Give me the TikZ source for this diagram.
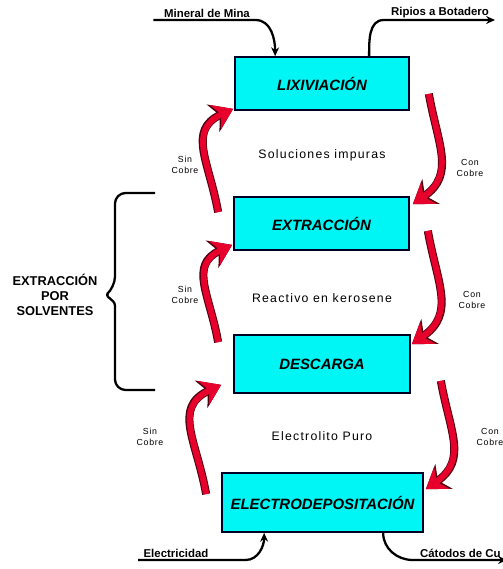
\documentclass[tikz,border=0pt]{standalone}
\usepackage{fontspec}
\setmainfont{Liberation Sans}
\usepackage{xcolor}
\usetikzlibrary{arrows.meta,positioning,calc}

\definecolor{boxcyan}{RGB}{0,245,245}
\definecolor{cured}{RGB}{232,0,45}
\definecolor{cudark}{RGB}{80,0,15}

\tikzset{
  stage/.style={shape=rectangle, draw=black!85!blue, line width=1pt, fill=boxcyan,
    font=\fontsize{8.5}{10}\selectfont\bfseries\itshape},
  midtext/.style={font=\fontsize{7}{8}\selectfont\addfontfeature{LetterSpace=10}},
  cutext/.style={font=\fontsize{5}{6}\selectfont\addfontfeature{LetterSpace=8}, align=center},
  feedtext/.style={font=\fontsize{6.5}{7}\selectfont\bfseries, inner sep=1pt},
  feedline/.style={line width=1.3pt, -{Stealth[length=5pt,width=4.5pt]}},
  cuarrow/.style={line width=3.4pt, cured, -{Stealth[length=11pt,width=15pt]},
    preaction={draw=cudark, line width=4.6pt, -{Stealth[length=12.5pt,width=17pt]}}},
  braceline/.style={line width=1.3pt}
}

\begin{document}
\begin{tikzpicture}[x=0.02cm, y=0.02cm]

\useasboundingbox (0,0) rectangle (503,569);

% Process stages
\node [stage, minimum width=3.48cm, minimum height=1.06cm] at (322,485.5) (lix_box) {LIXIVIACIÓN};
\node [stage, minimum width=3.5cm, minimum height=1.06cm] at (321.5,345.5) (extr_box) {EXTRACCIÓN};
\node [stage, minimum width=3.52cm, minimum height=1.16cm] at (322,205) (desc_box) {DESCARGA};
\node [stage, minimum width=4.02cm, minimum height=1.18cm] at (322.5,66.5) (elec_box) {ELECTRODEPOSITACIÓN};

% Solutions between stages
\node [midtext] at (322,414) (sol_txt) {Soluciones impuras};
\node [midtext] at (322,271) (kero_txt) {Reactivo en kerosene};
\node [midtext] at (322,133) (puro_txt) {Electrolito Puro};

\node [cutext] at (185,404) (sin_a) {Sin\\Cobre};
\node [cutext] at (185,274) (sin_b) {Sin\\Cobre};
\node [cutext] at (150,132) (sin_c) {Sin\\Cobre};
\node [cutext] at (470,401) (con_a) {Con\\Cobre};
\node [cutext] at (472,269) (con_b) {Con\\Cobre};
\node [cutext] at (490,132) (con_c) {Con\\Cobre};

% Sin Cobre (going up)
\draw [cuarrow] ($(extr_box.north west)+(-15,-16)$) to[out=100,in=205,looseness=1.25] ($(lix_box.south west)+(-1,2)$);
\draw [cuarrow] ($(desc_box.north west)+(-15,-8)$) to[out=100,in=205,looseness=1.25] ($(extr_box.south west)+(-1,6)$);
\draw [cuarrow] ($(elec_box.north west)+(-15,-22)$) to[out=100,in=205,looseness=1.25] ($(desc_box.south west)+(-12,9)$);

% Con Cobre (going down)
\draw [cuarrow] ($(lix_box.south east)+(19,17)$) to[out=-80,in=35,looseness=1.2] ($(extr_box.north east)+(3,-8)$);
\draw [cuarrow] ($(extr_box.south east)+(18,20)$) to[out=-80,in=35,looseness=1.2] ($(desc_box.north east)+(1,-10)$);
\draw [cuarrow] ($(desc_box.south east)+(30,13)$) to[out=-80,in=35,looseness=1.2] ($(elec_box.north east)+(2,-17)$);

% Feeds in and out
\node [feedtext, anchor=south] at (207,549) (min_txt) {Mineral de Mina};
\node [feedtext, anchor=south] at (440,549) (rip_txt) {Ripios a Botadero};
\node [feedtext, anchor=south] at (176,9) (elc_txt) {Electricidad};
\node [feedtext, anchor=south west] at (418,9) (cat_txt) {Cátodos de Cu};
\coordinate (rip_end) at (495,549);
\coordinate (cat_end) at (507,9);

\draw [feedline] ([xshift=-5pt]min_txt.south west) -- ([xshift=2pt]min_txt.south east) to[out=0,in=90] ($(lix_box.north west)+(41,0)$);
\draw [feedline] ($(lix_box.north west)+(135,0)$) to[out=90,in=180] ([xshift=-3pt]rip_txt.south west) -- (rip_end);
\draw [feedline] ([xshift=-2pt]elc_txt.south west) -- ([xshift=20pt]elc_txt.south east) to[out=0,in=-90] ($(elec_box.south west)+(43,0)$);
\draw [feedline] ($(elec_box.south west)+(162,0)$) to[out=-90,in=180] ([xshift=-3pt]cat_txt.south west) -- (cat_end);

% Brace
\node [font=\fontsize{7.3}{8.5}\selectfont\bfseries, align=center] at (55,274) (sxs_txt) {EXTRACCIÓN\\POR\\SOLVENTES};
\draw [braceline] (155,376) [rounded corners=6pt] -- (115,376) -- (115,282) [rounded corners=1.5pt] -- (106,274) -- (115,266) [rounded corners=6pt] -- (115,179) -- (155,179);

\end{tikzpicture}
\end{document}
